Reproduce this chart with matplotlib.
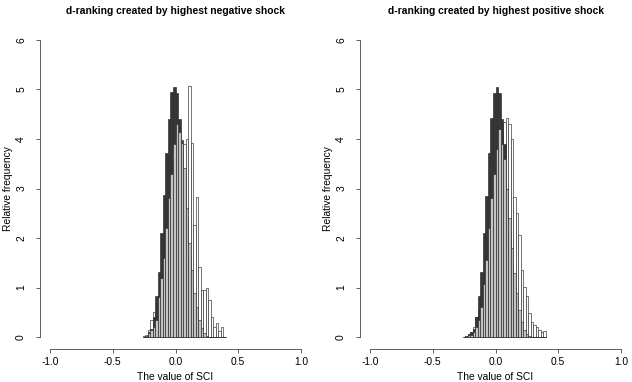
import numpy as np
import matplotlib.pyplot as plt

plt.rcParams['font.family'] = ['Liberation Sans', 'DejaVu Sans']

# histogram bins (left edges), width 0.02
bin_width = 0.02
bin_left = np.round(np.arange(-0.26, 0.39, bin_width), 2)

titles = ["d-ranking created by highest negative shock",
          "d-ranking created by highest positive shock"]

# left panel: relative frequencies per bin
neg_white = [0.03, 0.05, 0.15, 0.35, 0.51, 0.45, 0.6, 0.9, 1.2, 1.6, 2.0, 2.5, 2.9, 3.3,
             3.6, 3.7, 3.9, 4.0, 5.07, 3.92, 2.26, 2.83, 1.42, 0.95, 0.95, 1.0, 0.75,
             0.4, 0.2, 0.28, 0.12, 0.2, 0.0]
neg_dark = [0.0, 0.02, 0.1, 0.17, 0.4, 0.83, 1.32, 2.1, 2.87, 3.71, 4.4, 4.94, 5.04, 4.93,
            4.4, 3.98, 3.3, 2.4, 1.6, 1.0, 0.5, 0.25, 0.1, 0.0, 0.0, 0.0, 0.0,
            0.0, 0.0, 0.0, 0.0, 0.0, 0.0]
neg_gray = [0.0, 0.02, 0.08, 0.15, 0.2, 0.35, 0.8, 1.2, 1.6, 2.2, 2.8, 3.3, 3.9, 4.3,
            4.15, 3.92, 3.41, 2.6, 1.9, 1.35, 0.9, 0.6, 0.35, 0.18, 0.08, 0.03, 0.0,
            0.0, 0.0, 0.0, 0.0, 0.0, 0.0]

# right panel
pos_white = [0.0, 0.03, 0.07, 0.1, 0.2, 0.41, 0.55, 0.75, 1.0, 1.4, 1.9, 2.4, 2.9, 3.4,
             3.8, 4.1, 4.35, 4.42, 4.3, 4.0, 2.83, 2.5, 2.06, 1.35, 1.02, 0.82, 0.48,
             0.3, 0.24, 0.2, 0.15, 0.1, 0.13]
pos_dark = [0.0, 0.03, 0.07, 0.1, 0.17, 0.4, 0.83, 1.32, 2.1, 2.85, 3.72, 4.42, 4.93, 5.04,
            4.93, 4.4, 3.9, 3.0, 2.1, 1.4, 0.8, 0.4, 0.15, 0.05, 0.0, 0.0, 0.0,
            0.0, 0.0, 0.0, 0.0, 0.0, 0.0]
pos_gray = [0.0, 0.02, 0.05, 0.05, 0.1, 0.2, 0.35, 0.61, 1.08, 1.55, 2.2, 2.8, 3.3, 3.8,
            4.2, 3.9, 3.6, 3.0, 2.4, 1.8, 1.3, 0.9, 0.55, 0.3, 0.15, 0.07, 0.03,
            0.0, 0.0, 0.0, 0.0, 0.0, 0.0]

panels = [(neg_white, neg_dark, neg_gray), (pos_white, pos_dark, pos_gray)]

fig = plt.figure(figsize=(6.32, 3.82), dpi=100)
lefts = [40 / 632, 360 / 632]
fs = 7.4

for i, (white, dark, gray) in enumerate(panels):
    ax = fig.add_axes([lefts[i], 33 / 382, 271 / 632, 321 / 382])
    # white drawn first, then dark, gray on top
    for vals, col in [(white, 'white'), (dark, '#363636'), (gray, '#c4c4c4')]:
        ax.bar(bin_left, vals, width=bin_width, align='edge', color=col,
               edgecolor='#2a2a2a', linewidth=0.45)

    ax.set_xlim(-1.08, 1.08)
    ax.set_ylim(-0.24, 6.24)
    ax.spines['top'].set_visible(False)
    ax.spines['right'].set_visible(False)
    ax.spines['left'].set_bounds(0, 6)
    ax.spines['bottom'].set_bounds(-1, 1)
    for s in ['left', 'bottom']:
        ax.spines[s].set_linewidth(0.6)
        ax.spines[s].set_color('#444444')
    ax.set_xticks([-1.0, -0.5, 0.0, 0.5, 1.0])
    ax.set_xticklabels(['-1.0', '-0.5', '0.0', '0.5', '1.0'])
    ax.set_yticks(range(7))
    ax.tick_params(length=3, width=0.6, color='#444444', labelsize=fs)
    ax.tick_params(axis='x', pad=2.5)
    ax.tick_params(axis='y', pad=7)
    for lab in ax.get_yticklabels():
        lab.set_rotation(90)
        lab.set_va('center')
    ax.set_xlabel('The value of SCI', fontsize=fs, labelpad=4)
    ax.set_ylabel('Relative frequency', fontsize=fs)
    ax.yaxis.set_label_coords(-27 / 271, 0.5)
    ax.set_title(titles[i], fontsize=fs, fontweight='bold', pad=10)

fig.savefig('out.png', dpi=100)
